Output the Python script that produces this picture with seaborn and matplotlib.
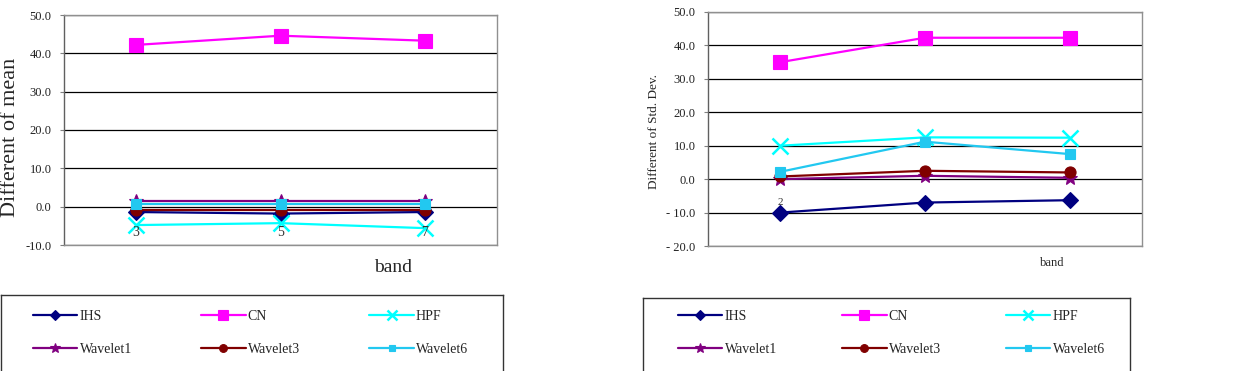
import pandas as pd
import seaborn as sns
import matplotlib.pyplot as plt
from matplotlib.ticker import FixedLocator, FixedFormatter

# data
methods = ['IHS', 'CN', 'HPF', 'Wavelet1', 'Wavelet3', 'Wavelet6']
bands_mean = ['3', '5', '7']
bands_std = ['2', '', '']

mean_ihs = [-1.4, -1.8, -1.4]
mean_cn = [42.2, 44.6, 43.3]
mean_hpf = [-4.8, -4.3, -5.6]
mean_wav1 = [1.4, 1.4, 1.4]
mean_wav3 = [-0.9, -0.9, -0.9]
mean_wav6 = [0.7, 0.7, 0.7]

std_ihs = [-10.0, -7.0, -6.3]
std_cn = [35.0, 42.3, 42.3]
std_hpf = [10.0, 12.5, 12.4]
std_wav1 = [0.0, 1.0, 0.4]
std_wav3 = [0.8, 2.5, 2.0]
std_wav6 = [2.2, 11.2, 7.5]

mean_ticks = [50, 40, 30, 20, 10, 0, -10]
mean_ticklabels = ['50.0', '40.0', '30.0', '20.0', '10.0', '0.0', '-10.0']
std_ticks = [50, 40, 30, 20, 10, 0, -10, -20]
std_ticklabels = ['50.0', '40.0', '30.0', '20.0', '10.0', '0.0', '- 10.0', '- 20.0']

colors = {'IHS': '#000080', 'CN': '#FF00FF', 'HPF': '#00FFFF',
          'Wavelet1': '#800080', 'Wavelet3': '#800000', 'Wavelet6': '#22C8F0'}
markers = {'IHS': 'D', 'CN': 's', 'HPF': 'x', 'Wavelet1': '*', 'Wavelet3': 'o', 'Wavelet6': 's'}
msizes = {'IHS': 8, 'CN': 10, 'HPF': 11, 'Wavelet1': 10, 'Wavelet3': 8, 'Wavelet6': 7}

mean_df = pd.DataFrame({'IHS': mean_ihs, 'CN': mean_cn, 'HPF': mean_hpf,
                        'Wavelet1': mean_wav1, 'Wavelet3': mean_wav3, 'Wavelet6': mean_wav6})
std_df = pd.DataFrame({'IHS': std_ihs, 'CN': std_cn, 'HPF': std_hpf,
                       'Wavelet1': std_wav1, 'Wavelet3': std_wav3, 'Wavelet6': std_wav6})

sns.set_style('white')
plt.rcParams['font.family'] = ['Liberation Serif', 'DejaVu Serif']

fig = plt.figure(figsize=(12.33, 3.71), dpi=100)
W, H = 1233, 371


def px_axes(x0, y0, x1, y1):
    return fig.add_axes([x0 / W, 1 - y1 / H, (x1 - x0) / W, (y1 - y0) / H])


def draw_panel(ax, df, bands, ymin, ymax, ticks, ticklabels, band_y, band_fs):
    for m in methods:
        sns.lineplot(x=list(range(len(df))), y=df[m], ax=ax, color=colors[m],
                     marker=markers[m], markersize=msizes[m], mec=colors[m],
                     mew=1.8 if m == 'HPF' else 0.8, lw=1.6, label=m)
    if ax.get_legend():
        ax.get_legend().remove()
    ax.set_xlim(-0.5, len(df) - 0.5)
    ax.set_ylim(ymin, ymax)
    ax.yaxis.set_major_locator(FixedLocator(ticks))
    ax.yaxis.set_major_formatter(FixedFormatter(ticklabels))
    ax.set_xticks([])
    ax.yaxis.grid(True, color='black', lw=0.9)
    ax.set_axisbelow(True)
    ax.tick_params(axis='y', left=True, length=3, width=0.8, color='#808080',
                   labelsize=9, pad=6, labelcolor='#222222')
    for s in ax.spines.values():
        s.set_color('#909090')
        s.set_linewidth(1.0)
    ax.spines['left'].set_color('#606060')
    for i, b in enumerate(bands):
        ax.text(i, band_y, b, ha='center', va='center', fontsize=band_fs, color='#333333')
    ax.set_xlabel('')
    ax.set_ylabel('')


ax1 = px_axes(64, 15, 497, 245)
draw_panel(ax1, mean_df, bands_mean, -10, 50, mean_ticks, mean_ticklabels, -6.8, 10)
ax2 = px_axes(708, 12, 1142, 246)
draw_panel(ax2, std_df, bands_std, -20, 50, std_ticks, std_ticklabels, -7.0, 8)

fig.text(11 / W, 1 - 137 / H, 'Different of mean', rotation=90, ha='center', va='center', fontsize=16)
fig.text(393 / W, 1 - 267 / H, 'band', ha='center', va='center', fontsize=14)
fig.text(654 / W, 1 - 131 / H, 'Different of Std. Dev.', rotation=90, ha='center', va='center', fontsize=9.5)
fig.text(1052 / W, 1 - 263 / H, 'band', ha='center', va='center', fontsize=9)

# legends in their own boxes
handles, labels = ax1.get_legend_handles_labels()
order = [0, 3, 1, 4, 2, 5]
handles = [handles[i] for i in order]
labels = [labels[i] for i in order]

for (x0, x1, y0, hx, cs) in [(1, 503, 295, 33, 5.0), (643, 1130, 298, 678, 4.7)]:
    lax = px_axes(x0, y0, x1, H + 10)
    lax.set_xticks([])
    lax.set_yticks([])
    lax.set_facecolor('white')
    for s in lax.spines.values():
        s.set_color('#333333')
        s.set_linewidth(1.0)
    fig.legend(handles, labels, ncol=3, loc='center left',
               bbox_to_anchor=(hx / W, 1 - 333 / H), frameon=False,
               fontsize=10, handlelength=3.2, handletextpad=0.15,
               columnspacing=cs, labelspacing=1.45, borderpad=0,
               borderaxespad=0, markerscale=0.7)

fig.savefig('out.png', dpi=100)
